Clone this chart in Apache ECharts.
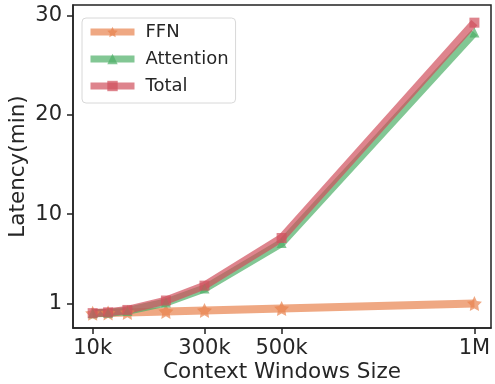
<!DOCTYPE html>
<html><head><meta charset="utf-8">
<script src="https://cdn.jsdelivr.net/npm/echarts@6/dist/echarts.min.js"></script>
<style>html,body{margin:0;padding:0;background:#fff}#c{width:495px;height:384px}</style>
</head><body><div id="c"></div>
<script>
var contextSizes = [10000, 50000, 100000, 200000, 300000, 500000, 1000000];
var ffn = [0.01, 0.05, 0.1, 0.2, 0.3, 0.5, 1.0];
var attention = [0.02, 0.06, 0.25, 1.1, 2.5, 7.1, 28.3];
var total = [0.03, 0.11, 0.35, 1.3, 2.8, 7.6, 29.3];
var xTicks = [10000, 300000, 500000, 1000000];
var xTickLabels = {10000: '10k', 300000: '300k', 500000: '500k', 1000000: '1M'};
var yTicks = [1, 10, 20, 30];

function pairs(ys) { return contextSizes.map(function (x, i) { return [x, ys[i]]; }); }
var star = 'path://M0,-10L2.94,-4.05L9.51,-3.09L4.76,1.55L5.88,8.09L0,5L-5.88,8.09L-4.76,1.55L-9.51,-3.09L-2.94,-4.05Z';
var font = 'DejaVu Sans';
var chart = echarts.init(document.getElementById('c'));
function ser(name, data, color, sym, size) {
  return {
    name: name, type: 'line', data: pairs(data), symbol: sym, symbolSize: size,
    lineStyle: { color: color, width: 8, opacity: 0.7 },
    itemStyle: { color: color, opacity: 0.7 },
    emphasis: { disabled: true }, z: 2
  };
}
chart.setOption({
  animation: false,
  grid: { left: 73, top: 5, right: 4, bottom: 56, show: true, borderColor: '#222', borderWidth: 1.5,
    backgroundColor: 'transparent', containLabel: false, outerBoundsMode: 'none' },
  legend: {
    left: 82, top: 18, orient: 'vertical', itemWidth: 44, itemHeight: 13, itemGap: 9,
    padding: [5, 7, 8, 5], backgroundColor: '#fff', borderColor: '#d8d8d8', borderWidth: 1, borderRadius: 4,
    lineStyle: { width: 7, opacity: 0.7 },
    itemStyle: { opacity: 0.7 },
    textStyle: { fontFamily: font, fontSize: 18, lineHeight: 18, color: '#262626', padding: [0, 0, 0, 6] },
    data: ['FFN', 'Attention', 'Total']
  },
  xAxis: {
    type: 'value', min: -41000, max: 1043000,
    name: 'Context Windows Size', nameLocation: 'middle', nameGap: 33, nameMoveOverlap: false,
    nameTextStyle: { fontFamily: font, fontSize: 21.5, color: '#262626' },
    axisLine: { show: true, onZero: false, lineStyle: { color: '#222', width: 1.5 } },
    axisTick: { show: true, length: 6, lineStyle: { color: '#222', width: 1.5 }, customValues: xTicks },
    axisLabel: { fontFamily: font, fontSize: 21, color: '#262626', margin: 10, customValues: xTicks,
      formatter: function (v) { return xTickLabels[v] || ''; } },
    splitLine: { show: false }
  },
  yAxis: {
    type: 'value', min: -1.47, max: 31.08,
    name: 'Latency(min)', nameLocation: 'middle', nameGap: 44, nameMoveOverlap: false,
    nameTextStyle: { fontFamily: font, fontSize: 21.5, color: '#262626' },
    axisLine: { show: true, onZero: false, lineStyle: { color: '#222', width: 1.5 } },
    axisTick: { show: true, length: 6, lineStyle: { color: '#222', width: 1.5 }, customValues: yTicks },
    axisLabel: { fontFamily: font, fontSize: 21, color: '#262626', margin: 11, customValues: yTicks },
    splitLine: { show: false }
  },
  series: [
    ser('FFN', ffn, '#E8834E', star, 15),
    ser('Attention', attention, '#4DAF66', 'triangle', 10),
    ser('Total', total, '#D0505C', 'rect', 10)
  ]
});
</script></body></html>
